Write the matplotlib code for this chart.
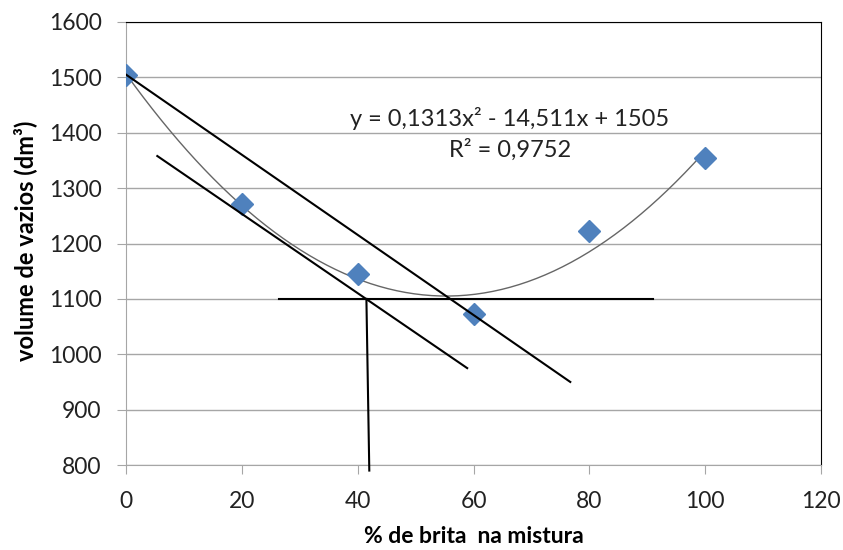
import numpy as np
import matplotlib
matplotlib.use('Agg')
import matplotlib.pyplot as plt

plt.rcParams['font.family'] = ['Lato', 'DejaVu Sans']

# ensaio: % de brita x volume de vazios
brita = [0, 20, 40, 60, 80, 100]
vazios = [1505, 1272, 1145, 1072, 1222, 1355]

# retas auxiliares desenhadas a mao sobre o grafico
reta1_x = [0, 76.7]
reta1_y = [1505, 950]
reta2_x = [5.4, 58.9]
reta2_y = [1358, 975]
horiz_x = [26.4, 91.0]
horiz_y = [1100, 1100]
vert_x = [41.5, 42.0]
vert_y = [1100, 790]

eq_txt = 'y = 0,1313x² - 14,511x + 1505'
r2_txt = 'R² = 0,9752'

fig = plt.figure(figsize=(8.43, 5.50), dpi=100)
ax = fig.add_axes([0.1495, 0.1545, 0.8245, 0.8055])

grid_c = '#a6a6a6'
ax.set_xlim(0, 120)
ax.set_ylim(800, 1600)
ax.set_xticks(range(0, 121, 20))
ax.set_yticks(range(800, 1601, 100))
ax.grid(axis='y', color=grid_c, lw=1)
ax.set_axisbelow(True)

for s in ['left', 'bottom']:
    ax.spines[s].set_color(grid_c)
for s in ['top', 'right']:
    ax.spines[s].set_color('black')
ax.tick_params(direction='out', length=6.5, color=grid_c, labelsize=16.5,
               labelcolor='#222222')
ax.tick_params(axis='x', pad=12)
ax.tick_params(axis='y', pad=11)

# linha de tendencia polinomial (ordem 2)
coef = np.polyfit(brita, vazios, 2)
xx = np.linspace(0, 100, 200)
ax.plot(xx, np.polyval(coef, xx), color='#666666', lw=1, zorder=3)

ax.plot(brita, vazios, 'D', color='#4f81bd', markersize=11, zorder=4)

for lx, ly in [(reta1_x, reta1_y), (reta2_x, reta2_y), (horiz_x, horiz_y)]:
    ax.plot(lx, ly, color='black', lw=1.5, zorder=5)
ax.plot(vert_x, vert_y, color='black', lw=1.5, zorder=5, clip_on=False)

ax.text(66.3, 1425, eq_txt, ha='center', va='center', fontsize=17, color='#222222')
ax.text(66.3, 1369, r2_txt, ha='center', va='center', fontsize=17, color='#222222')

ax.set_xlabel('% de brita  na mistura', fontsize=16.5, fontweight='bold')
ax.set_ylabel('volume de vazios (dm³)', fontsize=17, fontweight='bold')
ax.xaxis.set_label_coords(0.5, -0.138)
ax.yaxis.set_label_coords(-0.128, 0.506)

fig.savefig('out.png', dpi=100)
